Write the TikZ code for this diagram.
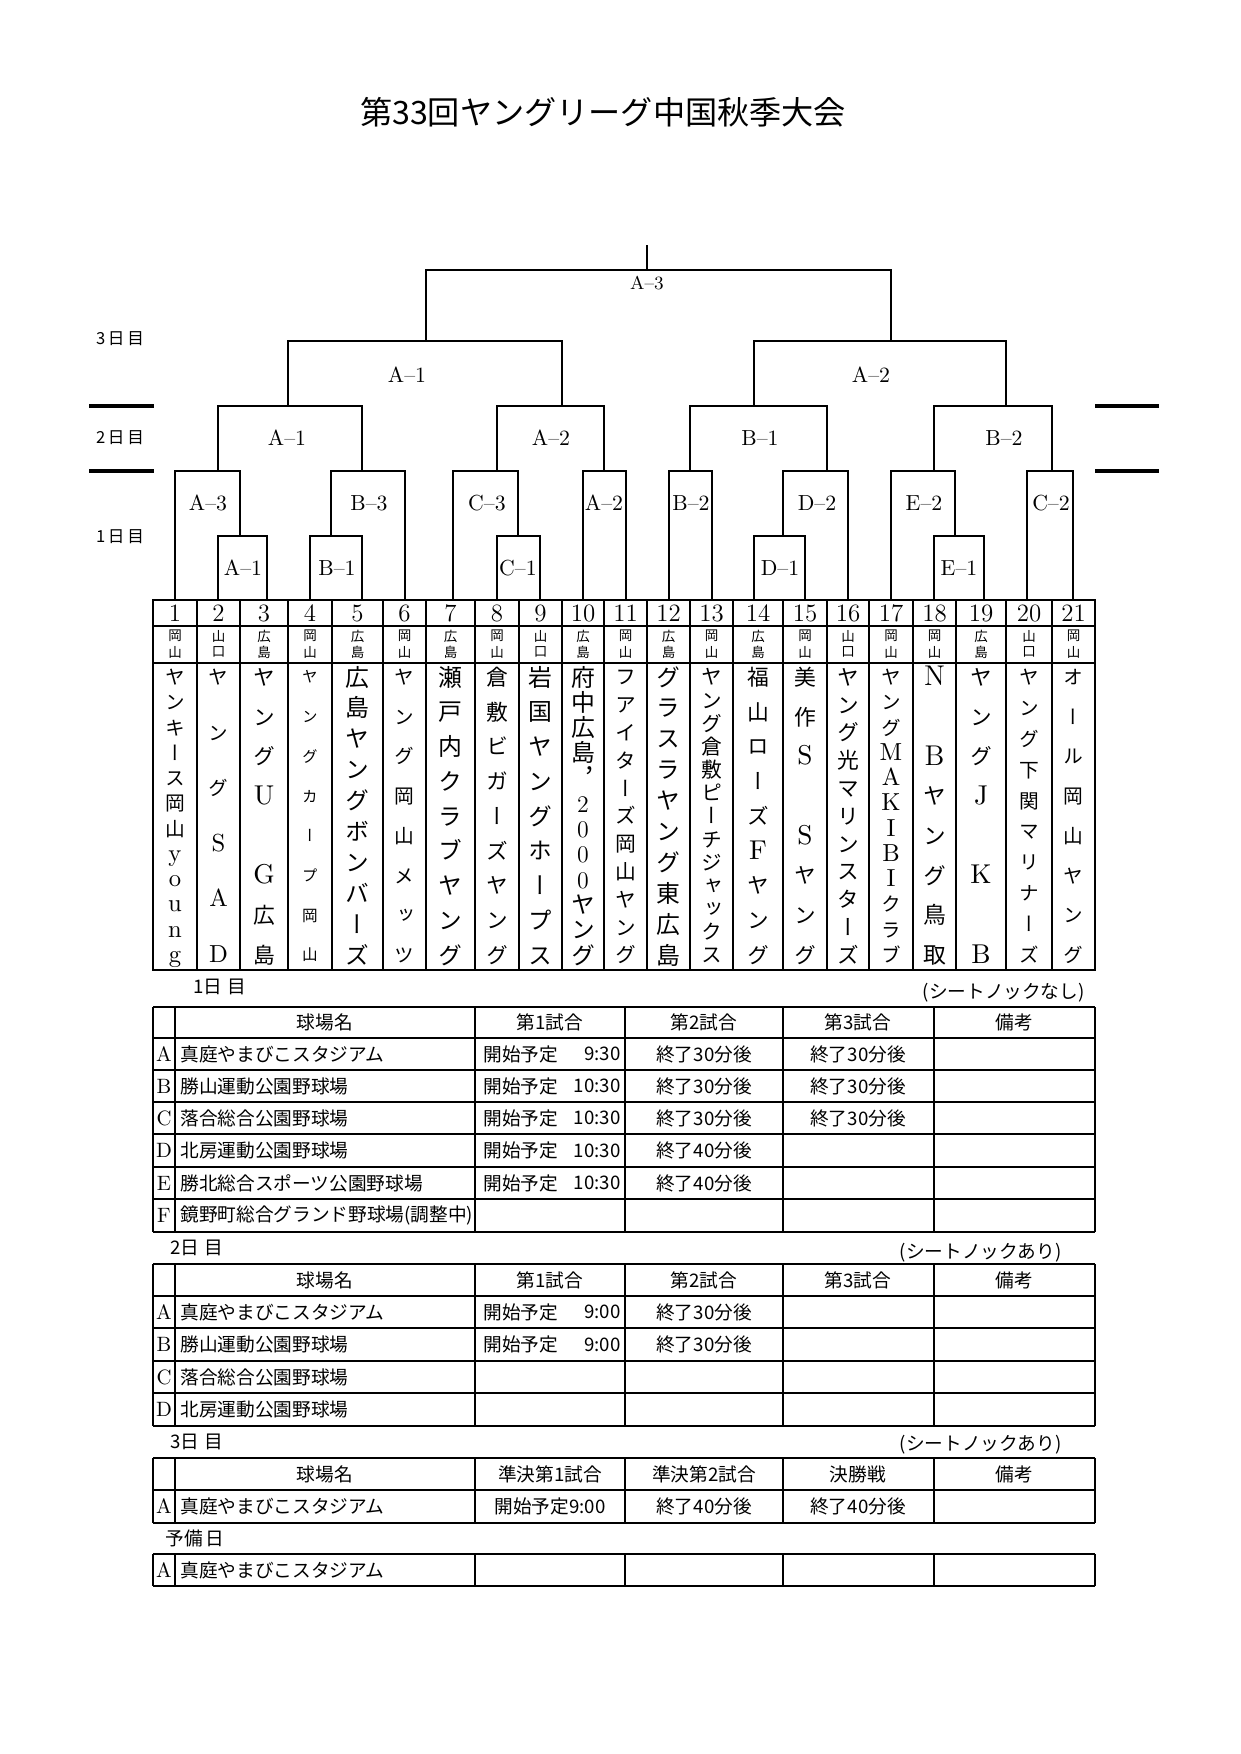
\documentclass[tikz,border=0pt]{standalone}
\usepackage{fontspec}
\newfontfamily\jp{Noto Sans CJK JP}
\newfontfamily\jpv[RawFeature=+vert]{Noto Sans CJK JP}
\newcommand\latn[1]{{\rmfamily\scalebox{1.25}{#1}}}
\newcommand\dgt[1]{{\rmfamily #1}}
\tikzset{
  br/.style={line width=0.8pt},
  tb/.style={line width=1pt},
  daybar/.style={line width=1.6pt},
  lab/.style={inner sep=0pt,font=\fontsize{10.5}{12}\selectfont},
  num/.style={inner sep=0pt,font=\fontsize{12}{12}\selectfont},
  pref/.style={inner sep=0pt,font=\jp\fontsize{6.5}{7}\selectfont},
  cell/.style={inner sep=0pt,font=\jp\fontsize{9}{10}\selectfont},
  rowid/.style={inner sep=0pt,font=\fontsize{10}{10}\selectfont},
  daylab/.style={inner sep=0pt,font=\jp\fontsize{8}{9}\selectfont},
  daytop/.style={inner sep=0pt,font=\jp\fontsize{9}{10}\selectfont},
  note/.style={inner sep=0pt,anchor=east,font=\jp\fontsize{9}{10}\selectfont}
}
\begin{document}
\begin{tikzpicture}[x=0.0169355cm,y=-0.0169355cm]
\useasboundingbox (0,0) rectangle (1240,1754);
\node[inner sep=0pt,font=\jp\fontsize{15.5}{16}\selectfont] (title) at (603,112) {第33回ヤングリーグ中国秋季大会};
\foreach \yy/\t [count=\k] in {339/3,438/2,537/1}{\node[daylab] (dl\k) at (120,\yy) {\t\,日\,目};}
\foreach \yy in {406,471}{
  \draw[daybar] (89,\yy) -- (154,\yy);
  \draw[daybar] (1095,\yy) -- (1159,\yy);
}
\foreach \lx/\ly/\rx/\ry/\hy/\t/\tx/\ty [count=\k] in {
  218/600/267/600/536/A--1/243/568, 310/600/362/600/536/B--1/337/568,
  497/600/540/600/536/C--1/518/568, 754/600/805/600/536/D--1/780/568,
  934/600/984/600/536/E--1/959/568,
  175/600/240/536/471/A--3/208/503, 331/536/405/600/471/B--3/369/503,
  453/600/518/536/471/C--3/487/503, 583/600/626/600/471/A--2/604/503,
  669/600/712/600/471/B--2/691/503, 783/536/848/600/471/D--2/817/503,
  891/600/955/536/471/E--2/924/503, 1027/600/1073/600/471/C--2/1051/503,
  218/471/362/471/406/A--1/287/438, 497/471/604/471/406/A--2/551/438,
  690/471/827/471/406/B--1/760/438, 934/471/1052/471/406/B--2/1004/438,
  288/406/562/406/341/A--1/407/375, 754/406/1006/406/341/A--2/871/375}{
  \draw[br] (\lx,\ly) -- (\lx,\hy) -- (\rx,\hy) -- (\rx,\ry);
  \node[lab] (m\k) at (\tx,\ty) {\t};
}
\draw[br] (426,341) -- (426,270) -- (891,270) -- (891,341);
\draw[br] (647,270) -- (647,245);
\node[lab,font=\fontsize{9}{10}\selectfont] (fin) at (647,283) {A--3};
\draw[tb] (153,600) rectangle (1095,970);
\draw[tb] (153,626) -- (1095,626);
\draw[tb] (153,663) -- (1095,663);
\foreach \xx in {197,240,288,332,383,426,475,519,562,604,647,690,733,783,827,869,913,956,1006,1052}{\draw[tb] (\xx,600) -- (\xx,970);}
\foreach \i/\x/\a/\b in {1/175/岡/山,2/218.5/山/口,3/264/広/島,4/310/岡/山,5/357.5/広/島,6/404.5/岡/山,7/450.5/広/島,8/497/岡/山,9/540.5/山/口,10/583/広/島,11/625.5/岡/山,12/668.5/広/島,13/711.5/岡/山,14/758/広/島,15/805/岡/山,16/848/山/口,17/891/岡/山,18/934.5/岡/山,19/981/広/島,20/1029/山/口,21/1073.5/岡/山}{
  \node[num] (no\i) at (\x,613) {\i};
  \node[pref] (pa\i) at (\x,636) {\a};
  \node[pref] (pb\i) at (\x,652) {\b};
}
\foreach \i/\x/\n/\s/\l in {
  1/175/12/9.5/{ヤ,ン,キ,ー,ス,岡,山,\latn y,\latn o,\latn u,\latn n,\latn g},
  2/218.5/6/9.5/{ヤ,ン,グ,\latn S,\latn A,\latn D},
  3/264/8/10.5/{ヤ,ン,グ,\latn U,{},\latn G,広,島},
  4/310/8/7.5/{ヤ,ン,グ,カ,ー,プ,岡,山},
  5/357.5/10/11.5/{広,島,ヤ,ン,グ,ボ,ン,バ,ー,ズ},
  6/404.5/8/9.5/{ヤ,ン,グ,岡,山,メ,ッ,ツ},
  7/450.5/9/11.5/{瀬,戸,内,ク,ラ,ブ,ヤ,ン,グ},
  8/497/9/10.5/{倉,敷,ビ,ガ,ー,ズ,ヤ,ン,グ},
  9/540.5/9/11.5/{岩,国,ヤ,ン,グ,ホ,ー,プ,ス},
  10/583/12/11.5/{府,中,広,島,，,\dgt 2,\dgt 0,\dgt 0,\dgt 0,ヤ,ン,グ},
  11/625.5/11/10/{フ,ア,イ,タ,ー,ズ,岡,山,ヤ,ン,グ},
  12/668.5/10/11.5/{グ,ラ,ス,ラ,ヤ,ン,グ,東,広,島},
  13/711.5/13/10/{ヤ,ン,グ,倉,敷,ピ,ー,チ,ジ,ャ,ッ,ク,ス},
  14/758/9/10.5/{福,山,ロ,ー,ズ,\latn F,ヤ,ン,グ},
  15/805/8/10.5/{美,作,\latn S,{},\latn S,ヤ,ン,グ},
  16/848/11/10.5/{ヤ,ン,グ,光,マ,リ,ン,ス,タ,ー,ズ},
  17/891/12/9.5/{ヤ,ン,グ,\latn M,\latn A,\latn K,\latn I,\latn B,\latn I,ク,ラ,ブ},
  18/934.5/8/11/{\latn N,{},\latn B,ヤ,ン,グ,鳥,取},
  19/981/8/10.5/{ヤ,ン,グ,\latn J,{},\latn K,{},\latn B},
  20/1029/10/9.5/{ヤ,ン,グ,下,関,マ,リ,ナ,ー,ズ},
  21/1073.5/8/9.5/{オ,ー,ル,岡,山,ヤ,ン,グ}}{
  \foreach \c [count=\k from 0] in \l {
    \node[anchor=base,inner sep=0pt,yshift={-0.38*\s pt},font={\jpv\fontsize{\s}{\s}\selectfont}] (n\i-\k) at (\x,{677+\k*278/(\n-1)}) {\c};
  }
}
\node[daytop] (d1) at (220,987) {1日\;目};
\node[note] (k1) at (1085,993) {(シートノックなし)};
\foreach \yy in {1007,1038,1070,1102,1134,1167,1199,1232}{\draw[tb] (153,\yy) -- (1095,\yy);}
\foreach \xx in {153,175,475,625,783,934,1095}{\draw[tb] (\xx,1007) -- (\xx,1232);}
\foreach \xx/\t [count=\k] in {325/球場名,550/第1試合,704/第2試合,858/第3試合,1014/備考}{\node[cell] (ha\k) at (\xx,1022.5) {\t};}
\foreach \yy/\r/\v [count=\k] in {1054/A/真庭やまびこスタジアム,1086/B/勝山運動公園野球場,1118/C/落合総合公園野球場,1150.5/D/北房運動公園野球場,1183/E/勝北総合スポーツ公園野球場,1215.5/F/鏡野町総合グランド野球場(調整中)}{
  \node[rowid] (ra\k) at (164,\yy) {\r};
  \node[cell,anchor=west] (va\k) at (180,\yy) {\v};
}
\foreach \yy/\tm [count=\k] in {1054/9:30,1086/10:30,1118/10:30,1150.5/10:30,1183/10:30}{
  \node[cell,anchor=west] (sa\k) at (483,\yy) {開始予定};
  \node[cell,anchor=east] (ta\k) at (621,\yy) {\tm};
}
\foreach \xx/\yy/\t [count=\k] in {704/1054/終了30分後,858/1054/終了30分後,704/1086/終了30分後,858/1086/終了30分後,704/1118/終了30分後,858/1118/終了30分後,704/1150.5/終了40分後,704/1183/終了40分後}{\node[cell] (ea\k) at (\xx,\yy) {\t};}
\node[daytop] (d2) at (197,1248) {2日\;目};
\node[note] (k2) at (1062,1253) {(シートノックあり)};
\foreach \yy in {1264,1296,1328,1361,1393,1426}{\draw[tb] (153,\yy) -- (1095,\yy);}
\foreach \xx in {153,175,475,625,783,934,1095}{\draw[tb] (\xx,1264) -- (\xx,1426);}
\foreach \xx/\t [count=\k] in {325/球場名,550/第1試合,704/第2試合,858/第3試合,1014/備考}{\node[cell] (hb\k) at (\xx,1280) {\t};}
\foreach \yy/\r/\v [count=\k] in {1312/A/真庭やまびこスタジアム,1344.5/B/勝山運動公園野球場,1377/C/落合総合公園野球場,1409.5/D/北房運動公園野球場}{
  \node[rowid] (rb\k) at (164,\yy) {\r};
  \node[cell,anchor=west] (vb\k) at (180,\yy) {\v};
}
\foreach \yy [count=\k] in {1312,1344.5}{
  \node[cell,anchor=west] (sb\k) at (483,\yy) {開始予定};
  \node[cell,anchor=east] (tb\k) at (621,\yy) {9:00};
  \node[cell] (eb\k) at (704,\yy) {終了30分後};
}
\node[daytop] (d3) at (197,1442) {3日\;目};
\node[note] (k3) at (1062,1445) {(シートノックあり)};
\foreach \yy in {1458,1490,1523}{\draw[tb] (153,\yy) -- (1095,\yy);}
\foreach \xx in {153,175,475,625,783,934,1095}{\draw[tb] (\xx,1458) -- (\xx,1523);}
\foreach \xx/\t [count=\k] in {325/球場名,550/準決第1試合,704/準決第2試合,858/決勝戦,1014/備考}{\node[cell] (hc\k) at (\xx,1474) {\t};}
\node[rowid] (rc1) at (164,1506.5) {A};
\node[cell,anchor=west] (vc1) at (180,1506.5) {真庭やまびこスタジアム};
\node[cell] (sc1) at (550,1506.5) {開始予定9:00};
\node[cell] (ec1) at (704,1506.5) {終了40分後};
\node[cell] (ec2) at (858,1506.5) {終了40分後};
\node[daytop] (d4) at (195,1538) {予備\,日};
\foreach \yy in {1554,1586}{\draw[tb] (153,\yy) -- (1095,\yy);}
\foreach \xx in {153,175,475,625,783,934,1095}{\draw[tb] (\xx,1554) -- (\xx,1586);}
\node[rowid] (rd1) at (164,1570) {A};
\node[cell,anchor=west] (vd1) at (180,1570) {真庭やまびこスタジアム};
\end{tikzpicture}
\end{document}
